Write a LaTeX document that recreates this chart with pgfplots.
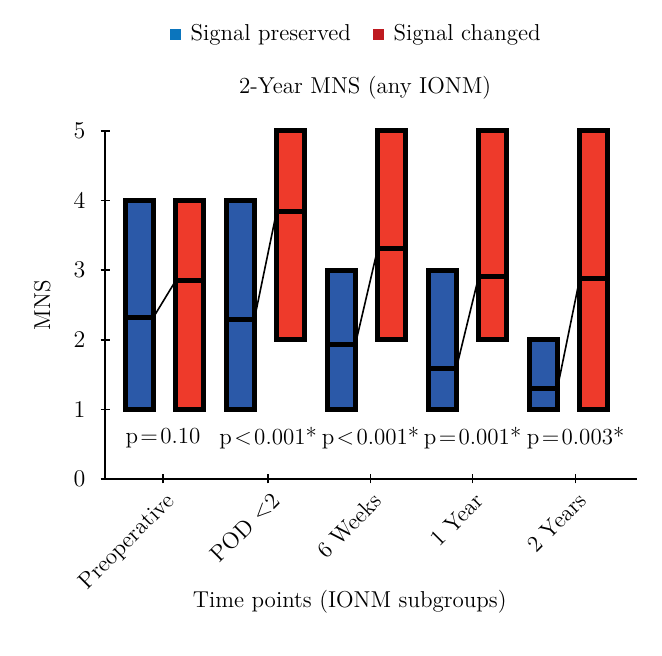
\documentclass[border=0pt]{standalone}
\usepackage{pgfplots}
\pgfplotsset{compat=1.18}
\definecolor{boxblue}{RGB}{43,89,168}
\definecolor{boxred}{RGB}{238,58,43}
\definecolor{legblue}{RGB}{11,117,189}
\definecolor{legred}{RGB}{190,26,32}
\begin{document}
\begin{tikzpicture}
\path[use as bounding box] (0,0) rectangle (331pt,328pt);
\begin{axis}[
  at={(52.5pt,88.5pt)}, anchor=south west,
  scale only axis, width=266pt, height=174pt,
  font=\fontsize{11.5}{14}\selectfont,
  xmin=-0.589, xmax=4.678, ymin=0, ymax=5,
  axis x line=bottom, axis y line=left,
  axis line style={line width=1pt, -},
  tick style={line width=0.8pt, black},
  major tick length=4.5pt,
  ytick={0,1,2,3,4,5},
  xtick={-0.015,1.026,2.04,3.05,4.07},
  xticklabels={Preoperative,POD <2,6 Weeks,1 Year,2 Years},
  x tick label style={rotate=45, anchor=north east, inner sep=1pt, yshift=-2pt, xshift=-1pt},
  y tick label style={xshift=-4pt},
  xlabel={Time points (IONM subgroups)},
  xlabel style={at={(axis description cs:0.46,-0.353)}, anchor=center},
  ylabel={MNS},
  ylabel style={at={(axis description cs:-0.118,0.5)}, anchor=center, rotate=0},
  clip=false,
  legend style={draw=none, fill=none, at={(axis description cs:0.474,1.279)}, anchor=center,
    legend columns=2, /tikz/every even column/.append style={column sep=9pt},
    font=\fontsize{11.5}{14}\selectfont},
  legend cell align=left,
]
\addlegendimage{legend image code/.code={\fill[legblue] (0pt,-2.5pt) rectangle (5pt,2.5pt); \path (8pt,0pt);}}
\addlegendentry{Signal preserved}
\addlegendimage{legend image code/.code={\fill[legred] (0pt,-2.5pt) rectangle (5pt,2.5pt); \path (8pt,0pt);}}
\addlegendentry{Signal changed}

% connecting lines between medians
\addplot[black, line width=0.8pt, forget plot] coordinates {(-0.111,2.32) (0.111,2.85)};
\addplot[black, line width=0.8pt, forget plot] coordinates {(0.889,2.29) (1.111,3.85)};
\addplot[black, line width=0.8pt, forget plot] coordinates {(1.889,1.93) (2.111,3.31)};
\addplot[black, line width=0.8pt, forget plot] coordinates {(2.889,1.59) (3.111,2.91)};
\addplot[black, line width=0.8pt, forget plot] coordinates {(3.889,1.30) (4.111,2.88)};

% boxes: signal preserved
\addplot[fill=boxblue, draw=black, line width=2.5pt, forget plot] coordinates {(-0.389,1) (-0.111,1) (-0.111,4) (-0.389,4)} -- cycle;
\addplot[fill=boxblue, draw=black, line width=2.5pt, forget plot] coordinates {(0.611,1) (0.889,1) (0.889,4) (0.611,4)} -- cycle;
\addplot[fill=boxblue, draw=black, line width=2.5pt, forget plot] coordinates {(1.611,1) (1.889,1) (1.889,3) (1.611,3)} -- cycle;
\addplot[fill=boxblue, draw=black, line width=2.5pt, forget plot] coordinates {(2.611,1) (2.889,1) (2.889,3) (2.611,3)} -- cycle;
\addplot[fill=boxblue, draw=black, line width=2.5pt, forget plot] coordinates {(3.611,1) (3.889,1) (3.889,2) (3.611,2)} -- cycle;
% boxes: signal changed
\addplot[fill=boxred, draw=black, line width=2.5pt, forget plot] coordinates {(0.111,1) (0.389,1) (0.389,4) (0.111,4)} -- cycle;
\addplot[fill=boxred, draw=black, line width=2.5pt, forget plot] coordinates {(1.111,2) (1.389,2) (1.389,5) (1.111,5)} -- cycle;
\addplot[fill=boxred, draw=black, line width=2.5pt, forget plot] coordinates {(2.111,2) (2.389,2) (2.389,5) (2.111,5)} -- cycle;
\addplot[fill=boxred, draw=black, line width=2.5pt, forget plot] coordinates {(3.111,2) (3.389,2) (3.389,5) (3.111,5)} -- cycle;
\addplot[fill=boxred, draw=black, line width=2.5pt, forget plot] coordinates {(4.111,1) (4.389,1) (4.389,5) (4.111,5)} -- cycle;

% medians
\addplot[black, line width=2.5pt, forget plot] coordinates {(-0.389,2.32) (-0.111,2.32)};
\addplot[black, line width=2.5pt, forget plot] coordinates {(0.111,2.85) (0.389,2.85)};
\addplot[black, line width=2.5pt, forget plot] coordinates {(0.611,2.29) (0.889,2.29)};
\addplot[black, line width=2.5pt, forget plot] coordinates {(1.111,3.85) (1.389,3.85)};
\addplot[black, line width=2.5pt, forget plot] coordinates {(1.611,1.93) (1.889,1.93)};
\addplot[black, line width=2.5pt, forget plot] coordinates {(2.111,3.31) (2.389,3.31)};
\addplot[black, line width=2.5pt, forget plot] coordinates {(2.611,1.59) (2.889,1.59)};
\addplot[black, line width=2.5pt, forget plot] coordinates {(3.111,2.91) (3.389,2.91)};
\addplot[black, line width=2.5pt, forget plot] coordinates {(3.611,1.30) (3.889,1.30)};
\addplot[black, line width=2.5pt, forget plot] coordinates {(4.111,2.88) (4.389,2.88)};

% p-values
\node[inner sep=0pt] at (axis cs:-0.015,0.59) {p\kern1.2pt=\kern1.2pt0.10};
\node[inner sep=0pt] at (axis cs:1.026,0.59) {p\kern1.2pt<\kern1.2pt0.001*};
\node[inner sep=0pt] at (axis cs:2.04,0.59) {p\kern1.2pt<\kern1.2pt0.001*};
\node[inner sep=0pt] at (axis cs:3.05,0.59) {p\kern1.2pt=\kern1.2pt0.001*};
\node[inner sep=0pt] at (axis cs:4.07,0.59) {p\kern1.2pt=\kern1.2pt0.003*};

% title
\node at (axis description cs:0.489,1.124) {2-Year MNS (any IONM)};
\end{axis}
\end{tikzpicture}
\end{document}
